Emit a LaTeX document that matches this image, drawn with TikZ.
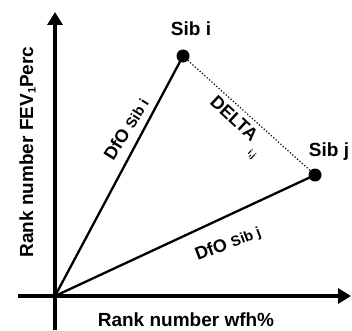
\documentclass[tikz,border=0pt]{standalone}
\usepackage{fontspec}
\setmainfont{Liberation Sans}
\usetikzlibrary{arrows.meta}
\begin{document}
\begin{tikzpicture}[x=1pt,y=1pt,
  axis/.style={line width=3.2pt,-{Triangle[width=15pt,length=13pt]}},
  arm/.style={line width=2.3pt},
  sib/.style={circle,fill=black,inner sep=0pt,minimum size=13pt},
  biglab/.style={font=\bfseries\fontsize{19}{21}\selectfont,inner sep=0pt},
  armlab/.style={font=\bfseries\fontsize{18}{20}\selectfont,inner sep=0pt}]
\useasboundingbox (0,0) rectangle (352,330);
\coordinate (O) at (55,34);
\coordinate (ybot) at (55,0);
\coordinate (ytop) at (55,318);
\coordinate (xl) at (18,34);
\coordinate (xr) at (351,34);
\draw[line width=3.2pt] (ybot) -- (O);
\draw[axis] (O) -- (ytop);
\draw[axis] (xl) -- (xr);
\node[sib] (si) at (183,274) {};
\node[sib] (sj) at (315,155) {};
\draw[arm] (O) -- (si.center);
\draw[arm] (O) -- (sj.center);
\draw[line width=1.2pt,dotted] (si.center) -- (sj.center);
\node[biglab] (lsi) at (191,301) {Sib i};
\node[biglab] (lsj) at (329,178) {Sib j};
\node[biglab,anchor=base] (xlab) at (186,4) {Rank number wfh\%};
\node[biglab,anchor=base,rotate=90] (ylab) at (33,178) {Rank number FEV\raisebox{-2.5pt}{\fontsize{11}{12}\selectfont 1}Perc};
\node[armlab,rotate=58] (dfoi) at (126,201) {DfO {\fontsize{14.5}{16}\selectfont Sib i}};
\node[armlab,rotate=21] (dfoj) at (228,86) {DfO {\fontsize{14.5}{16}\selectfont Sib j}};
\node[armlab,rotate=-43] (delta) at (230,207) {DELTA\rlap{\hspace{5pt}\raisebox{-11pt}{\fontsize{9}{10}\selectfont i,j}}};
\end{tikzpicture}
\end{document}
